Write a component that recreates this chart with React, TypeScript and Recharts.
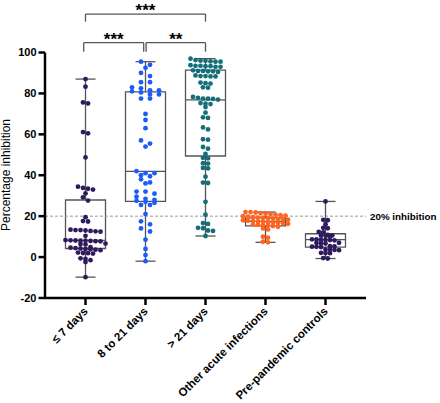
import {
  ComposedChart,
  ReferenceArea,
  ReferenceLine,
  Scatter,
  XAxis,
  YAxis,
} from "recharts";

/** --------- Data --------- */
const groups = [
  "≤ 7 days",
  "8 to 21 days",
  "> 21 days",
  "Other acute infections",
  "Pre-pandemic controls",
];

const upTo7Days = [
  87, 83.3, 75.6, 75.1, 61.1, 60.5, 48.7, 34.4, 33.8, 33.4, 33, 31.1, 29.2,
  27.6, 19.5, 17.6, 17.4, 13.4, 13.2, 13.2, 13, 12.8, 12.6, 12.4, 10.4, 8.3,
  8.2, 8.1, 8, 8, 7.9, 7.8, 7.7, 6.6, 6.4, 6.2, 4.8, 4.6, 4.4, 4.2, 4, 3.8,
  3.6, 3.4, 2.2, 2, 1.9, 1.7, -0.6, -0.9, -1.5, -2.4, -9.8,
];

const days8To21 = [
  95.5, 94, 92.5, 90, 88.5, 85.5, 85.5, 83, 82.5, 81.5, 81.5, 81, 80.5, 79.5,
  79.5, 77.5, 77.5, 70, 67, 63, 57, 55.5, 54, 42, 41, 41, 40, 39.5, 38, 36.5,
  36, 32, 32, 31, 29.5, 28.5, 28, 27.5, 27, 26.5, 25.5, 25.5, 21, 17.5, 16, 14,
  12.5, 8.5, 4, 1, -2,
];

const over21Days = [
  97, 96.3, 96, 96, 95.7, 95.5, 95.5, 93.8, 93.5, 93.5, 93.3, 93.3, 93, 93,
  91.3, 91, 91, 90.8, 90.8, 90.5, 88.8, 88.5, 88.5, 88.3, 88.3, 85.3, 85, 84.8,
  83, 82.8, 78.3, 77.8, 77.5, 77.5, 77.3, 77, 75.3, 75, 74.8, 73.3, 70.6, 68.3,
  68, 63.4, 62.4, 57.6, 57.4, 53.8, 53, 50.4, 48.5, 48.3, 45.9, 45.7, 43.6,
  43.4, 39.3, 36.4, 36.2, 27, 20.7, 16.6, 16.2, 14.3, 14.1, 13, 12.8, 10.3,
];

const otherAcute = [
  22, 22, 21.8, 21.5, 21.3, 21, 20.8, 20.5, 20.3, 20, 19.8, 19.5, 19.3, 19.2,
  19, 18.8, 18.6, 18.5, 18.3, 18, 17.8, 17.6, 17.5, 17.3, 17, 16.8, 16.6, 16.5,
  16.3, 16, 15.8, 15.6, 15.4, 15.2, 14.8, 14, 13.5, 10, 9.5, 7.5, 7.2,
];

const prePandemic = [
  27.2, 18.2, 18, 16.1, 14.3, 14.1, 12.3, 12.1, 10.8, 10.6, 10.5, 10.4, 10.2,
  8.7, 8.6, 8.5, 8.4, 8.3, 8.2, 7, 6.9, 6.8, 6.6, 5.3, 5.2, 5.1, 5, 4.9, 3.7,
  3.6, 3.5, 3.4, 2.1, 2, 1.9, -0.5, -0.7,
];

// box plot stats (min to max whiskers)
const boxMin = [-9.8, -2, 10.3, 7.2, -0.7];
const boxQ1 = [4.2, 27.2, 49.4, 15.3, 4.9];
const boxMedian = [8.2, 41.9, 76.8, 17.5, 8.5];
const boxQ3 = [27.9, 80.8, 91.4, 19.2, 11.4];
const boxMax = [87, 95.5, 97, 22, 27.2];

const colors = ["#2D1B5E", "#1A5BFA", "#136F7A", "#FF6420", "#2D1B5E"];
const dotSpacing = [5, 9, 5, 5, 4.5];

const FONT = "'Liberation Sans', Arial, Helvetica, sans-serif";
const PX_X = 60; // px per category step
const PX_Y = 245.5 / 120; // px per percent

/** --------- Swarm layout --------- */
const swarm = (values: number[], index: number, spacing: number, binPx = 3.5) => {
  const sorted = [...values].sort((a, b) => b - a);
  const rows: number[][] = [];
  let row: number[] = [];
  sorted.forEach((v) => {
    if (row.length && (row[0] - v) * PX_Y > binPx) {
      rows.push(row);
      row = [];
    }
    row.push(v);
  });
  if (row.length) rows.push(row);
  const out: { x: number; y: number }[] = [];
  rows.forEach((r) =>
    r.forEach((v, k) =>
      out.push({ x: index + ((k - (r.length - 1) / 2) * spacing) / PX_X, y: v })
    )
  );
  return out;
};

const series = [upTo7Days, days8To21, over21Days, otherAcute, prePandemic].map(
  (vals, i) => swarm(vals, i, dotSpacing[i])
);

/** --------- Helpers --------- */
const XTick = ({ x, y, payload }: any) => (
  <text
    transform={`translate(${x + 3},${y + 5}) rotate(-45)`}
    textAnchor="end"
    fontSize={11.5}
    fontWeight="bold"
    fontFamily={FONT}
    fill="#000"
  >
    {groups[payload.value]}
  </text>
);

const YLabel = () => (
  <text
    transform="translate(10,175) rotate(-90)"
    textAnchor="middle"
    fontSize={12}
    fontFamily={FONT}
    fill="#000"
  >
    Percentage inhibition
  </text>
);

const lineStyle = { stroke: "#555", strokeWidth: 1.3 };
const bracketStyle = { stroke: "#555", strokeWidth: 1.3 };
const starLabel = (value: string) => ({
  value,
  position: "top" as const,
  offset: -2,
  fontSize: 17,
  fontWeight: "bold",
  fontFamily: FONT,
  fill: "#000",
});

const brackets = [
  { from: 0, to: 2, y: 118.8, drop: 115.1, stars: "***" },
  { from: -0.03, to: 0.97, y: 104.8, drop: 100.4, stars: "***" },
  { from: 1.01, to: 2, y: 104.8, drop: 100.4, stars: "**" },
];

export default function App() {
  return (
    <div style={{ position: "absolute", left: 0, top: 0 }}>
      <ComposedChart
        width={440}
        height={403}
        margin={{ top: 52.5, right: 74, bottom: 5, left: 0 }}
      >
        <XAxis
          type="number"
          dataKey="x"
          domain={[-0.675, 4.675]}
          ticks={[0, 1, 2, 3, 4]}
          interval={0}
          height={100}
          tickSize={7}
          tick={<XTick />}
          axisLine={{ stroke: "#000", strokeWidth: 2.5 }}
          tickLine={{ stroke: "#000", strokeWidth: 2.5 }}
          allowDataOverflow
        />
        <YAxis
          type="number"
          dataKey="y"
          domain={[-20, 100]}
          ticks={[-20, 0, 20, 40, 60, 80, 100]}
          width={45}
          tickSize={6.5}
          tick={{ fontSize: 11, fontWeight: "bold", fill: "#000", fontFamily: FONT }}
          axisLine={{ stroke: "#000", strokeWidth: 2.5 }}
          tickLine={{ stroke: "#000", strokeWidth: 2.5 }}
          allowDataOverflow
          label={{ content: () => <YLabel /> }}
        />

        <ReferenceLine
          y={20}
          stroke="#999"
          strokeDasharray="3 2"
          strokeWidth={1}
          label={{
            value: "20% inhibition",
            position: "right",
            offset: 4,
            fontSize: 9.8,
            fontWeight: "bold",
            fontFamily: FONT,
            fill: "#000",
          }}
        />

        {/* Boxes */}
        {groups.map((g, i) => (
          <ReferenceArea
            key={`box-${g}`}
            x1={i - 1 / 3}
            x2={i + 1 / 3}
            y1={boxQ1[i]}
            y2={boxQ3[i]}
            fill="none"
            fillOpacity={0}
            {...lineStyle}
          />
        ))}
        {groups.map((g, i) => (
          <ReferenceLine
            key={`med-${g}`}
            segment={[
              { x: i - 1 / 3, y: boxMedian[i] },
              { x: i + 1 / 3, y: boxMedian[i] },
            ]}
            {...lineStyle}
          />
        ))}
        {groups.map((g, i) => (
          <ReferenceLine
            key={`wtop-${g}`}
            segment={[
              { x: i, y: boxQ3[i] },
              { x: i, y: boxMax[i] },
            ]}
            {...lineStyle}
          />
        ))}
        {groups.map((g, i) => (
          <ReferenceLine
            key={`wbot-${g}`}
            segment={[
              { x: i, y: boxMin[i] },
              { x: i, y: boxQ1[i] },
            ]}
            {...lineStyle}
          />
        ))}
        {groups.map((g, i) => (
          <ReferenceLine
            key={`cmax-${g}`}
            segment={[
              { x: i - 1 / 6, y: boxMax[i] },
              { x: i + 1 / 6, y: boxMax[i] },
            ]}
            {...lineStyle}
          />
        ))}
        {groups.map((g, i) => (
          <ReferenceLine
            key={`cmin-${g}`}
            segment={[
              { x: i - 1 / 6, y: boxMin[i] },
              { x: i + 1 / 6, y: boxMin[i] },
            ]}
            {...lineStyle}
          />
        ))}

        {/* Significance brackets */}
        {brackets.map((b, k) => (
          <ReferenceLine
            key={`br-${k}`}
            segment={[
              { x: b.from, y: b.y },
              { x: b.to, y: b.y },
            ]}
            ifOverflow="visible"
            label={starLabel(b.stars)}
            {...bracketStyle}
          />
        ))}
        {brackets.map((b, k) => (
          <ReferenceLine
            key={`brl-${k}`}
            segment={[
              { x: b.from, y: b.y },
              { x: b.from, y: b.drop },
            ]}
            ifOverflow="visible"
            {...bracketStyle}
          />
        ))}
        {brackets.map((b, k) => (
          <ReferenceLine
            key={`brr-${k}`}
            segment={[
              { x: b.to, y: b.y },
              { x: b.to, y: b.drop },
            ]}
            ifOverflow="visible"
            {...bracketStyle}
          />
        ))}

        {/* Dots */}
        {series.map((data, i) => (
          <Scatter
            key={`pts-${i}`}
            data={data}
            isAnimationActive={false}
            shape={(p: any) => (
              <circle cx={p.cx} cy={p.cy} r={2.4} fill={colors[i]} />
            )}
          />
        ))}
      </ComposedChart>
    </div>
  );
}
